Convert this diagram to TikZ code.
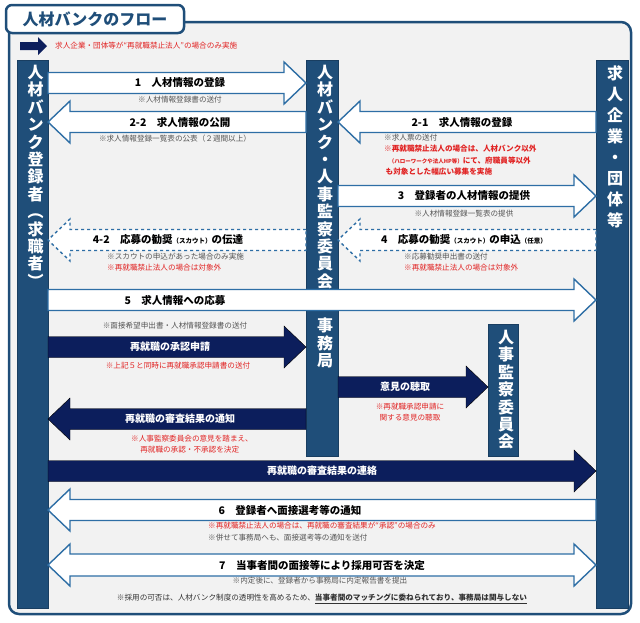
\documentclass[tikz,border=0pt]{standalone}
\usepackage{fontspec}
\setmainfont{Noto Sans CJK JP}
\usetikzlibrary{positioning}
\definecolor{colblue}{RGB}{31,78,121}
\definecolor{navy}{RGB}{12,30,92}
\definecolor{edgeblue}{RGB}{46,110,165}
\definecolor{notered}{RGB}{225,35,35}
\definecolor{notegray}{RGB}{85,85,85}
\definecolor{bgray}{RGB}{242,242,242}
% block arrows: {x start}{x end}{y centre}{style}
\newcommand\arrowR[4]{\draw[#4] (#1,#3-10.5) -- (#2-22,#3-10.5) -- (#2-22,#3-21) -- (#2,#3)
  -- (#2-22,#3+21) -- (#2-22,#3+10.5) -- (#1,#3+10.5) -- cycle;}
\newcommand\arrowL[4]{\draw[#4] (#1,#3-10.5) -- (#2+22,#3-10.5) -- (#2+22,#3-21) -- (#2,#3)
  -- (#2+22,#3+21) -- (#2+22,#3+10.5) -- (#1,#3+10.5) -- cycle;}
\begin{document}
\begin{tikzpicture}[x=1pt,y=-1pt,%
    white arrow/.style={draw=edgeblue, fill=white, line width=1.4pt},
    dash arrow/.style={white arrow, dashed},
    navy arrow/.style={fill=navy},
    col/.style={fill=colblue, draw=colblue!80!black},
    collabel/.style={font=\bfseries\fontsize{16}{17.4}\selectfont, text=white,
      text width=1em, align=center, anchor=north, inner sep=0pt},
    lab/.style={font=\bfseries\fontsize{10.5}{12}\selectfont},
    navylab/.style={lab, font=\bfseries\fontsize{10}{12}\selectfont, text=white},
    note/.style={font=\fontsize{7.6}{11}\selectfont, text=notegray, align=left, inner sep=0pt},
    rnote/.style={note, text=notered},
  ]
\useasboundingbox (0,0) rectangle (640,622);
% frame and title
\draw[draw=colblue, fill=bgray, line width=2.5pt, rounded corners=10pt] (9,22) rectangle (631,614);
\node[draw=colblue, fill=white, line width=2.5pt, rounded corners=6pt, minimum width=178pt,
  minimum height=28pt, font=\bfseries\fontsize{16}{18}\selectfont, text=colblue] (title) at (95,19) {人材バンクのフロー};
% legend
\fill[navy] (20,42) -- (38,42) -- (38,37) -- (47,46) -- (38,55) -- (38,50) -- (20,50) -- cycle;
\node[rnote, anchor=west] (legend) at (55,46) {求人企業・団体等が“再就職禁止法人”の場合のみ実施};
% columns
\draw[col] (17,60) rectangle (48,608);
\draw[col] (306,60) rectangle (338,456);
\draw[col] (596,60) rectangle (628,608);
\draw[col] (488,324) rectangle (518,456);
\node[collabel] (seeker) at (32.5,65) {人\\材\\バ\\ン\\ク\\登\\録\\者\\︵\\求\\職\\者\\︶};
\node[collabel] (bank) at (322,65) {人\\材\\バ\\ン\\ク\\・\\人\\事\\監\\察\\委\\員\\会};
\node[collabel] (office) at (322,318) {事\\務\\局};
\node[collabel, font=\bfseries\fontsize{16}{21}\selectfont] (company) at (612,65) {求\\人\\企\\業\\・\\団\\体\\等};
\node[collabel] (committee) at (503,330) {人\\事\\監\\察\\委\\員\\会};
% 1, 2-2
\arrowR{48}{306}{83}{white arrow}
\node[lab] (a1) at (180,83) {1\quad 人材情報の登録};
\node[note] (n1) at (180,100) {※人材情報登録書の送付};
\arrowL{306}{48}{122}{white arrow}
\node[lab] (a22) at (180,122) {2-2\quad 求人情報の公開};
\node[note] (n22) at (175,139) {※求人情報登録一覧表の公表（２週間以上）};
% 2-1, 3
\arrowL{596}{338}{122}{white arrow}
\node[lab] (a21) at (462,122) {2-1\quad 求人情報の登録};
\node[note, anchor=north west] (n21) at (384,134) {※求人票の送付};
\node[rnote, anchor=north west, font=\bfseries\fontsize{7.6}{11.5}\selectfont] (r21) at (384,145) {※再就職禁止法人の場合は、人材バンク以外\\
  \hspace{0.6em}{\fontsize{5.5}{9}\selectfont（ハローワークや法人HP等）}にて、府職員等以外\\ \hspace{0.2em}も対象とした幅広い募集を実施};
\arrowR{338}{596}{196}{white arrow}
\node[lab] (a3) at (464,196) {3\quad 登録者の人材情報の提供};
\node[note] (n3) at (464,214) {※人材情報登録一覧表の提供};
% 4, 4-2
\arrowL{596}{338}{240}{dash arrow}
\node[lab] (a4) at (464,240) {4\quad 応募の勧奨{\fontsize{6.5}{8}\selectfont（スカウト）}の申込{\fontsize{6.5}{8}\selectfont（任意）}};
\node[note, anchor=north west] (n4) at (404,253) {※応募勧奨申出書の送付};
\node[rnote, anchor=north west] (r4) at (404,264) {※再就職禁止法人の場合は対象外};
\arrowL{306}{48}{240}{dash arrow}
\node[lab] (a42) at (168,240) {4-2\quad 応募の勧奨{\fontsize{6.5}{8}\selectfont（スカウト）}の伝達};
\node[note, anchor=north west] (n42) at (107,253) {※スカウトの申込があった場合のみ実施};
\node[rnote, anchor=north west] (r42) at (107,264) {※再就職禁止法人の場合は対象外};
% 5
\arrowR{48}{596}{300}{white arrow}
\node[lab] (a5) at (175,300) {5\quad 求人情報への応募};
\node[note] (n5) at (175,326) {※面接希望申出書・人材情報登録書の送付};
% approval steps
\arrowR{48}{306}{347}{navy arrow}
\node[navylab] (ap) at (170,347) {再就職の承認申請};
\node[rnote] (rap) at (178,366) {※上記５と同時に再就職承認申請書の送付};
\arrowR{338}{488}{387}{navy arrow}
\node[navylab] (op) at (405,387) {意見の聴取};
\node[rnote] (rop) at (410,412) {※再就職承認申請に\\\hspace{0.5em}関する意見の聴取};
\arrowL{306}{48}{419}{navy arrow}
\node[navylab] (res) at (180,419) {再就職の審査結果の通知};
\node[rnote] (rres) at (192,444) {※人事監察委員会の意見を踏まえ、\\\hspace{1.2em}再就職の承認・不承認を決定};
\arrowR{48}{596}{471}{navy arrow}
\node[navylab] (con) at (322,471) {再就職の審査結果の連絡};
% 6, 7
\arrowL{596}{48}{510}{white arrow}
\node[lab] (a6) at (290,510) {6\quad 登録者へ面接選考等の通知};
\node[rnote, anchor=north west] (r6) at (208,522) {※再就職禁止法人の場合は、再就職の審査結果が“承認”の場合のみ};
\node[note, anchor=north west] (n6) at (208,534) {※併せて事務局へも、面接選考等の通知を送付};
\draw[white arrow] (48,565) -- (70,544) -- (70,554) -- (574,554) -- (574,544) -- (596,565)
  -- (574,586) -- (574,576) -- (70,576) -- (70,586) -- cycle;
\node[lab] (a7) at (322,565) {7\quad 当事者間の面接等により採用可否を決定};
\node[note] (n7) at (320,581) {※内定後に、登録者から事務局に内定報告書を提出};
\node[note, text=black!80] (foot) at (322,599) {※採用の可否は、人材バンク制度の透明性を高めるため、\underline{\bfseries 当事者間のマッチングに委ねられており、事務局は関与しない}};
\end{tikzpicture}
\end{document}
